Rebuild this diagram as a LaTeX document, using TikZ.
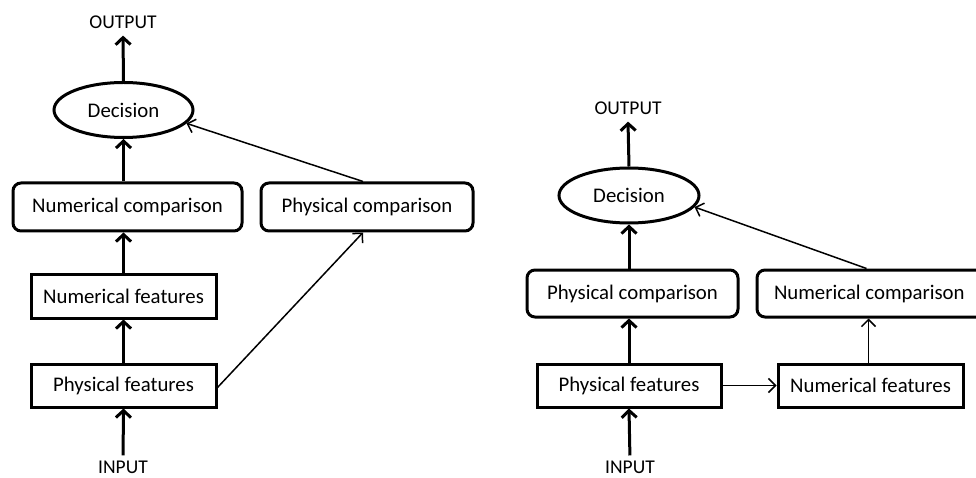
\documentclass[tikz,border=0pt]{standalone}
\usepackage{fontspec}
\setmainfont{Carlito}
\usetikzlibrary{arrows.meta,shapes.geometric}
\tikzset{
  boxtext/.style={font=\fontsize{20.8}{25}\selectfont},
  lbl/.style={font=\fontsize{19.5}{24}\selectfont, inner sep=0pt},
  rbox/.style={draw, line width=3pt, rounded corners=8pt, boxtext, inner sep=0pt},
  sbox/.style={draw, line width=3pt, boxtext, inner sep=0pt},
  ell/.style={draw, ellipse, line width=3pt, boxtext, inner sep=0pt},
  thick arrow/.style={line width=3pt, -{Straight Barb[length=7pt, width=15pt, line width=3pt]}},
  thin arrow/.style={line width=1.5pt, -{Straight Barb[length=7pt, width=14pt, line width=1.5pt]}}
}
\begin{document}
\begin{tikzpicture}[x=1pt, y=-1pt]
\useasboundingbox (0,0) rectangle (976,478);
\begin{scope}
\clip (0,0) rectangle (976,478);
% left diagram
\node[lbl] (out1) at (123,22) {OUTPUT};
\node[ell, minimum width=139pt, minimum height=55pt] (dec1) at (123.5,110) {Decision};
\node[rbox, minimum width=229pt, minimum height=48pt] (nc1) at (127.5,207) {Numerical comparison};
\node[rbox, minimum width=212pt, minimum height=48pt] (pc1) at (367,207) {Physical comparison};
\node[sbox, minimum width=185pt, minimum height=44pt] (nf1) at (123.5,296) {Numerical features};
\node[sbox, minimum width=185pt, minimum height=43pt] (pf1) at (123.5,385.5) {Physical features};
\node[lbl] (in1) at (123,467) {INPUT};
\draw[thick arrow] (dec1.north) -- ([yshift=-7pt]out1.south);
\draw[thick arrow] (dec1.south |- nc1.north) -- (dec1.south);
\draw[thick arrow] (nf1.north) -- (nf1.north |- nc1.south);
\draw[thick arrow] (pf1.north) -- (nf1.south);
\draw[thick arrow, shorten <=5pt] (in1.north) -- (pf1.south);
\draw[thin arrow] ([xshift=-4pt]pc1.north) -- (dec1.-12);
\draw[thin arrow] ([yshift=-2pt]pf1.east) -- ([xshift=-4pt]pc1.south);
% right diagram
\node[lbl] (out2) at (628,108) {OUTPUT};
\node[ell, minimum width=140pt, minimum height=55pt] (dec2) at (629,195.5) {Decision};
\node[rbox, minimum width=211pt, minimum height=47pt] (pc2) at (632.5,293.5) {Physical comparison};
\node[rbox, minimum width=229pt, minimum height=47pt, text width=195pt, align=flush left] (nc2) at (871.5,293.5) {Numerical comparison};
\node[sbox, minimum width=184pt, minimum height=43pt] (pf2) at (629,385.5) {Physical features};
\node[sbox, minimum width=185pt, minimum height=43pt] (nf2) at (870.5,385.5) {Numerical features};
\node[lbl] (in2) at (630,467) {INPUT};
\draw[thick arrow] (dec2.north) -- ([yshift=-7pt]out2.south);
\draw[thick arrow] (dec2.south |- pc2.north) -- (dec2.south);
\draw[thick arrow] (dec2.south |- pf2.north) -- (dec2.south |- pc2.south);
\draw[thick arrow, shorten <=5pt] (in2.north) -- (pf2.south);
\draw[thin arrow] (pf2.east) -- (nf2.west);
\draw[thin arrow] ([xshift=-2pt]nf2.north) -- ([xshift=-2pt]nf2.north |- nc2.south);
\draw[thin arrow] ([xshift=-5pt]nc2.north) -- (dec2.-10);
\end{scope}
\end{tikzpicture}
\end{document}
